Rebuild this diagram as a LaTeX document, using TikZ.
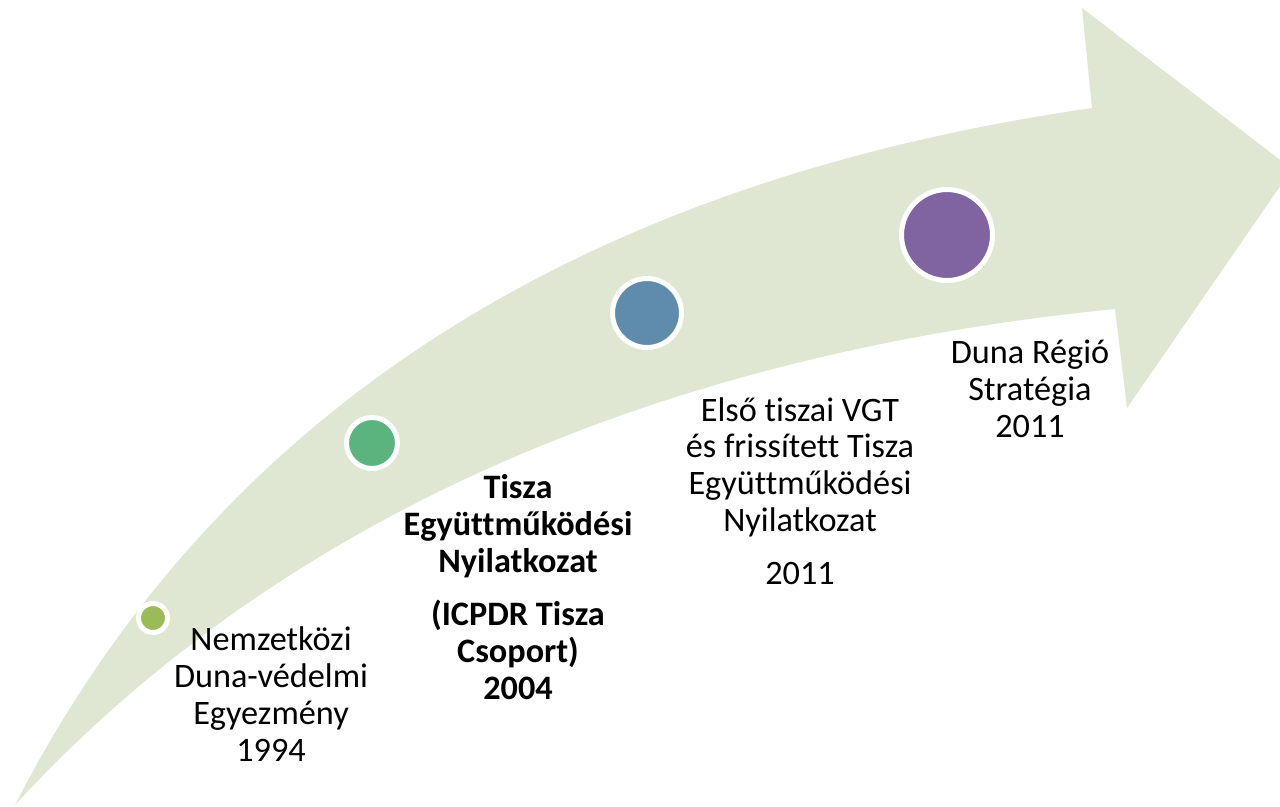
\documentclass[tikz,border=0pt]{standalone}
\usepackage{fontspec}
\setmainfont{Carlito}[Ligatures=NoCommon]

\definecolor{arrowfill}{HTML}{DFE7D2}
\definecolor{dotolive}{HTML}{9BBB59}
\definecolor{dotgreen}{HTML}{5BB37E}
\definecolor{dotblue}{HTML}{5F8BAD}
\definecolor{dotviolet}{HTML}{8064A2}

\tikzset{
  milestone/.style={circle,inner sep=0pt,draw=white,line width=.1cm},
  caption/.style={align=center,font=\fontsize{19.5}{21}\selectfont},
}

\begin{document}
\begin{tikzpicture}[
  x=.02cm, y=-.02cm,
  every node/.style={color=black},
  ]

  \useasboundingbox (0,0) rectangle (1280,806);
  \clip (0,0) rectangle (1280,806);

  % curved arrow
  \fill[arrowfill] (15,805) .. controls (210,425) and (560,185) .. (1092,108)
       -- (1082,8) -- (1292,169) -- (1127,408) -- (1115,309)
       .. controls (700,350) and (300,495) .. (15,805) -- cycle;

  \node[milestone,fill=dotolive,minimum size=.58cm] (m1994) at (153,618) {};
  \node[milestone,fill=dotgreen,minimum size=1.02cm] (m2004) at (372,443) {};
  \node[milestone,fill=dotblue,minimum size=1.38cm] (m2011a) at (647,313) {};
  \node[milestone,fill=dotviolet,minimum size=1.82cm] (m2011b) at (947,235) {};

  \node[caption] (t1994) at (271,694)
       {Nemzetközi\\Duna-védelmi\\Egyezmény\\1994};
  \node[caption,font=\fontsize{19.5}{21}\selectfont\bfseries] (t2004) at (518,587)
       {Tisza\\Együttműködési\\Nyilatkozat\\[9pt](ICPDR Tisza\\Csoport)\\2004};
  \node[caption] (t2011a) at (800,491)
       {Első tiszai VGT\\és frissített Tisza\\Együttműködési\\Nyilatkozat\\[9pt]2011};
  \node[caption] (t2011b) at (1030,389)
       {Duna Régió\\Stratégia\\2011};

\end{tikzpicture}
\end{document}
